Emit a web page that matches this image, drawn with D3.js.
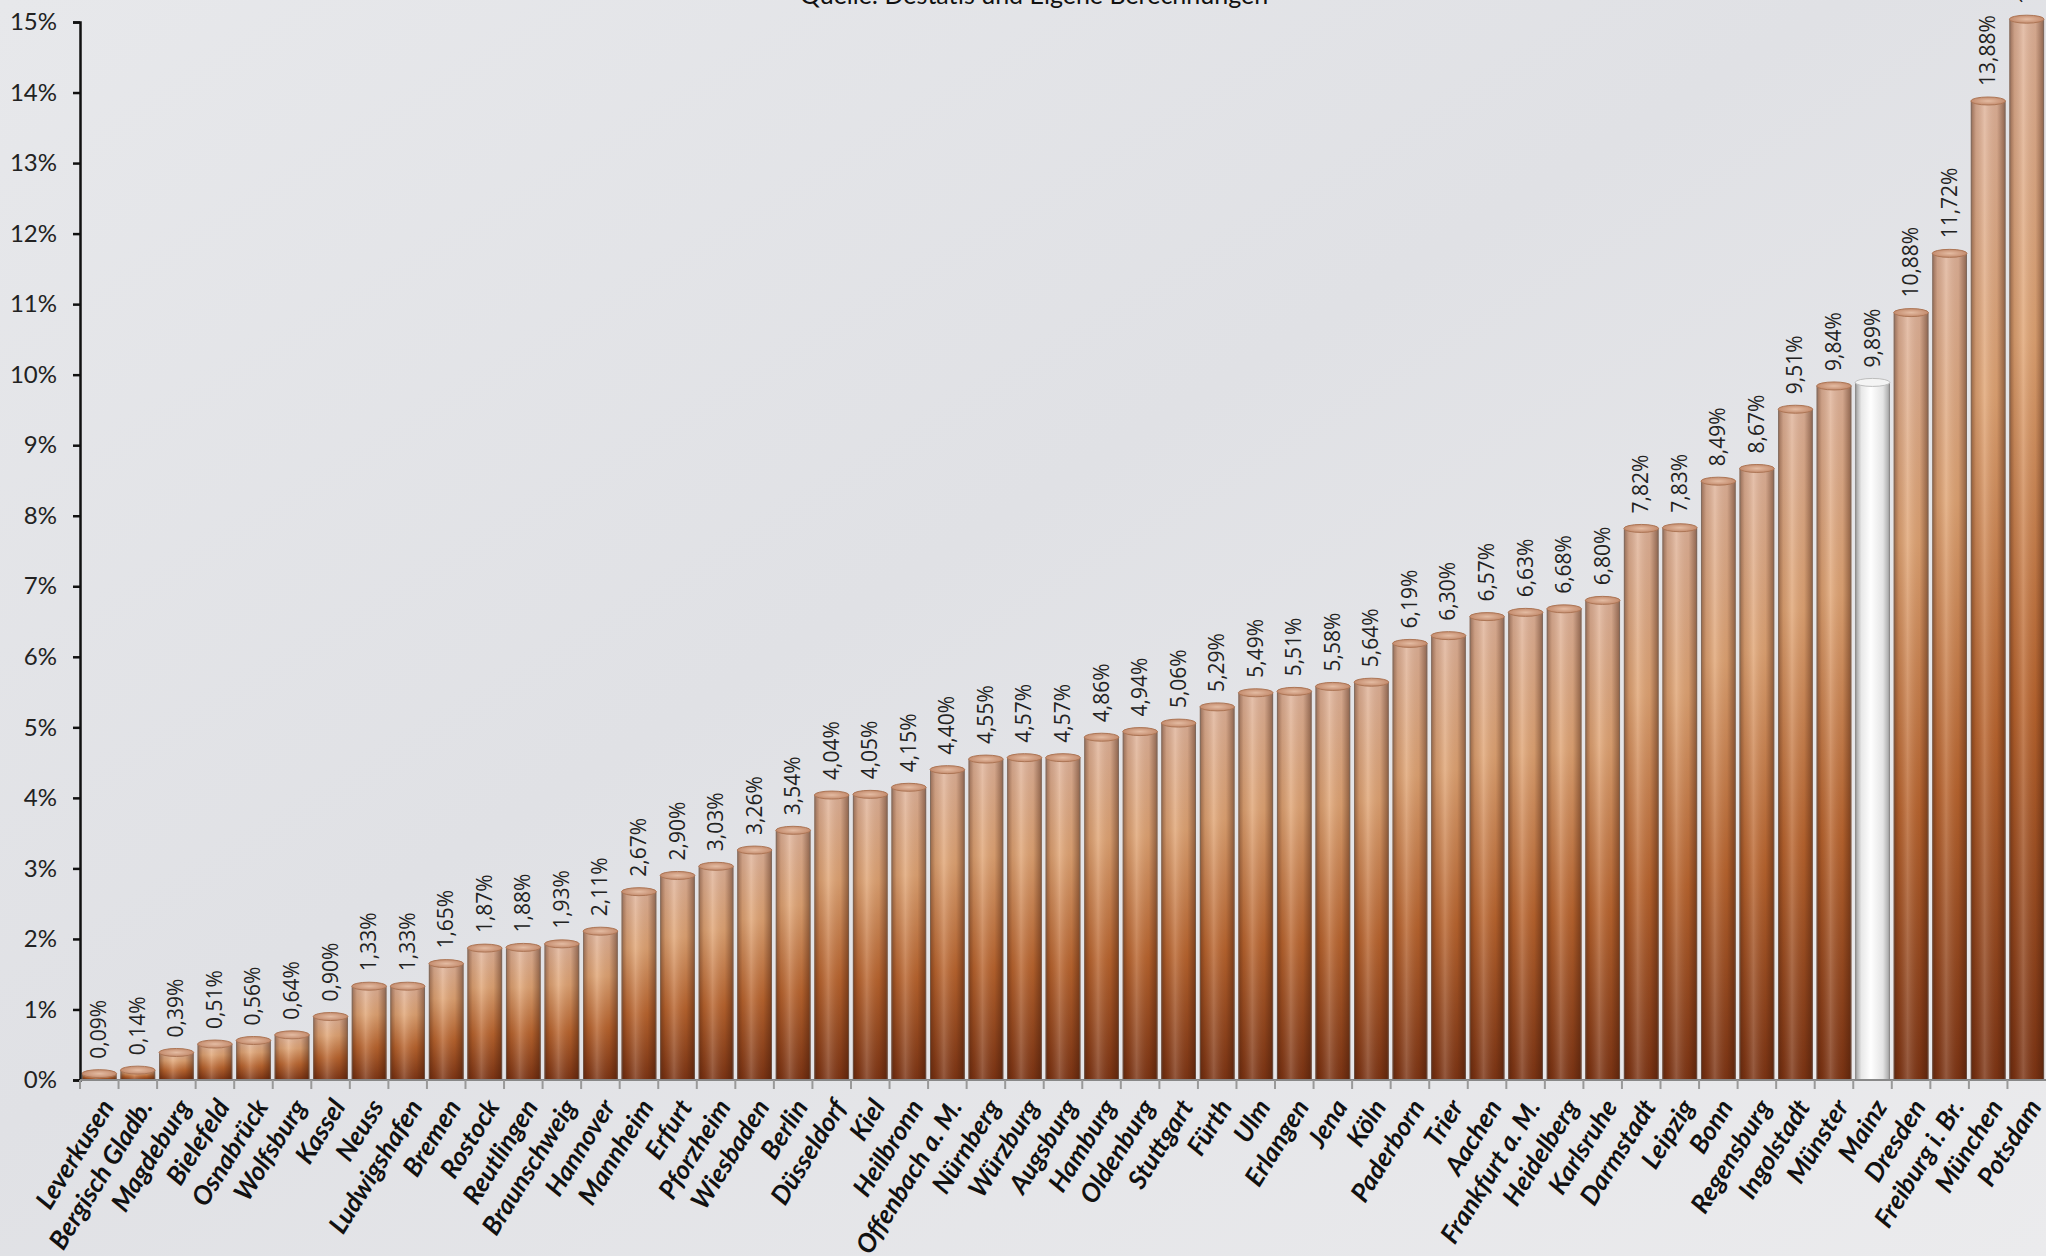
<!DOCTYPE html>
<html>
<head>
<meta charset="utf-8">
<script src="https://cdn.jsdelivr.net/npm/d3@7"></script>
<style>
    html, body { margin: 0; padding: 0; background: #e4e5e8; }
    svg { display: block; }
</style>
</head>
<body>
<div id="chart"></div>
<script>
//data (values in percent)
var cities = ["Leverkusen", "Bergisch Gladb.", "Magdeburg", "Bielefeld", "Osnabrück", "Wolfsburg", "Kassel",
    "Neuss", "Ludwigshafen", "Bremen", "Rostock", "Reutlingen", "Braunschweig", "Hannover", "Mannheim", "Erfurt",
    "Pforzheim", "Wiesbaden", "Berlin", "Düsseldorf", "Kiel", "Heilbronn", "Offenbach a. M.", "Nürnberg", "Würzburg",
    "Augsburg", "Hamburg", "Oldenburg", "Stuttgart", "Fürth", "Ulm", "Erlangen", "Jena", "Köln", "Paderborn", "Trier",
    "Aachen", "Frankfurt a. M.", "Heidelberg", "Karlsruhe", "Darmstadt", "Leipzig", "Bonn", "Regensburg", "Ingolstadt",
    "Münster", "Mainz", "Dresden", "Freiburg i. Br.", "München", "Potsdam"];
var values = [0.09, 0.14, 0.39, 0.51, 0.56, 0.64, 0.90,
    1.33, 1.33, 1.65, 1.87, 1.88, 1.93, 2.11, 2.67, 2.90,
    3.03, 3.26, 3.54, 4.04, 4.05, 4.15, 4.40, 4.55, 4.57,
    4.57, 4.86, 4.94, 5.06, 5.29, 5.49, 5.51, 5.58, 5.64, 6.19, 6.30,
    6.57, 6.63, 6.68, 6.80, 7.82, 7.83, 8.49, 8.67, 9.51,
    9.84, 9.89, 10.88, 11.72, 13.88, 15.04];
var highlight = ["Mainz"];
var yTicks = d3.range(0, 16, 1);
var subtitle = "Quelle: Destatis und Eigene Berechnungen";

var width = 2046, height = 1256;

var svg = d3.select("#chart").append("svg")
    .attr("width", width)
    .attr("height", height);

var defs = svg.append("defs");

//background
var bg = defs.append("linearGradient").attr("id", "bg")
    .attr("x1", 0).attr("y1", 0).attr("x2", 1).attr("y2", 1);
bg.append("stop").attr("offset", "0%").attr("stop-color", "#e7e8eb");
bg.append("stop").attr("offset", "45%").attr("stop-color", "#e0e1e5");
bg.append("stop").attr("offset", "100%").attr("stop-color", "#ebebed");
svg.append("rect").attr("width", width).attr("height", height).attr("fill", "url(#bg)");

//bar body gradient (vertical)
var vg = defs.append("linearGradient").attr("id", "barV")
    .attr("x1", 0).attr("y1", 0).attr("x2", 0).attr("y2", 1);
vg.append("stop").attr("offset", "0%").attr("stop-color", "#dfb39a");
vg.append("stop").attr("offset", "30%").attr("stop-color", "#e0a575");
vg.append("stop").attr("offset", "65%").attr("stop-color", "#b9652f");
vg.append("stop").attr("offset", "100%").attr("stop-color", "#7c3414");

//cylinder shading (horizontal)
var hg = defs.append("linearGradient").attr("id", "barH")
    .attr("x1", 0).attr("y1", 0).attr("x2", 1).attr("y2", 0);
hg.append("stop").attr("offset", "0%").attr("stop-color", "#3a1505").attr("stop-opacity", 0.45);
hg.append("stop").attr("offset", "15%").attr("stop-color", "#3a1505").attr("stop-opacity", 0.12);
hg.append("stop").attr("offset", "40%").attr("stop-color", "#ffffff").attr("stop-opacity", 0.18);
hg.append("stop").attr("offset", "75%").attr("stop-color", "#3a1505").attr("stop-opacity", 0.08);
hg.append("stop").attr("offset", "100%").attr("stop-color", "#3a1505").attr("stop-opacity", 0.5);

//highlight bar (silver)
var sg = defs.append("linearGradient").attr("id", "barS")
    .attr("x1", 0).attr("y1", 0).attr("x2", 1).attr("y2", 0);
sg.append("stop").attr("offset", "0%").attr("stop-color", "#9a9a9a");
sg.append("stop").attr("offset", "18%").attr("stop-color", "#e8e8e8");
sg.append("stop").attr("offset", "45%").attr("stop-color", "#ffffff");
sg.append("stop").attr("offset", "80%").attr("stop-color", "#e4e4e4");
sg.append("stop").attr("offset", "100%").attr("stop-color", "#a0a0a0");

var capG = defs.append("radialGradient").attr("id", "cap");
capG.append("stop").attr("offset", "0%").attr("stop-color", "#e4bca3");
capG.append("stop").attr("offset", "100%").attr("stop-color", "#c48c6e");

//scales
var plotLeft = 80, plotBottom = 1080, plotTop = 22;
var xScale = d3.scaleBand().domain(cities).range([plotLeft, width]).paddingInner(0.1).paddingOuter(0.05);
var yScale = d3.scaleLinear().domain([0, 15]).range([plotBottom, plotTop]);

var data = cities.map(function (c, i) { return {city: c, value: values[i]}; });
var bw = xScale.bandwidth();
var capRy = 4;

//subtitle (cut at top, as in the source)
svg.append("text")
    .attr("x", 1034).attr("y", 4)
    .attr("text-anchor", "middle")
    .style("font-family", "Lato, 'Open Sans', sans-serif")
    .style("font-size", "25px")
    .attr("fill", "#111")
    .text(subtitle);

//bars
var bars = svg.append("g").selectAll("g.bar")
    .data(data)
    .enter().append("g")
    .attr("class", "bar");

bars.append("rect")
    .attr("x", function (d) { return xScale(d.city); })
    .attr("y", function (d) { return yScale(d.value); })
    .attr("width", bw)
    .attr("height", function (d) { return plotBottom - yScale(d.value); })
    .attr("fill", function (d) { return highlight.indexOf(d.city) >= 0 ? "url(#barS)" : "url(#barV)"; });

bars.filter(function (d) { return highlight.indexOf(d.city) < 0; })
    .append("rect")
    .attr("x", function (d) { return xScale(d.city); })
    .attr("y", function (d) { return yScale(d.value); })
    .attr("width", bw)
    .attr("height", function (d) { return plotBottom - yScale(d.value); })
    .attr("fill", "url(#barH)");

//thin grey edge lines of the cylinders
bars.append("path")
    .attr("d", function (d) {
        var x0 = xScale(d.city) + 0.5, x1 = xScale(d.city) + bw - 0.5, y0 = yScale(d.value);
        return "M" + x0 + "," + y0 + "V" + plotBottom + "M" + x1 + "," + y0 + "V" + plotBottom;
    })
    .attr("stroke", "#6f6a66").attr("stroke-opacity", 0.55).attr("stroke-width", 1);

//top caps
bars.append("ellipse")
    .attr("cx", function (d) { return xScale(d.city) + bw / 2; })
    .attr("cy", function (d) { return yScale(d.value); })
    .attr("rx", bw / 2)
    .attr("ry", capRy)
    .attr("fill", function (d) { return highlight.indexOf(d.city) >= 0 ? "#f4f4f4" : "url(#cap)"; })
    .attr("stroke", function (d) { return highlight.indexOf(d.city) >= 0 ? "#bdbdbd" : "#ad7656"; })
    .attr("stroke-width", 1);

//value labels
bars.append("text")
    .attr("transform", function (d) {
        return "translate(" + (xScale(d.city) + bw / 2 + 7) + "," + (yScale(d.value) - 15) + ") rotate(-90)";
    })
    .style("font-family", "'Open Sans', sans-serif")
    .style("font-size", "21px")
    .attr("fill", "#222")
    .text(function (d) { return d.value.toFixed(2).replace(".", ",") + "%"; });

//y axis
var yAxis = d3.axisLeft(yScale).tickValues(yTicks).tickSize(7).tickPadding(16)
    .tickFormat(function (d) { return d + "%"; });
var yG = svg.append("g")
    .attr("transform", "translate(" + plotLeft + ",0)")
    .call(yAxis);
yG.select(".domain").attr("stroke", "#111").attr("stroke-width", 2.5);
yG.selectAll(".tick line").attr("stroke", "#111").attr("stroke-width", 2.5);
yG.selectAll("text")
    .style("font-family", "Lato, sans-serif")
    .style("font-size", "24px")
    .attr("fill", "#222");

//x axis
svg.append("line")
    .attr("x1", plotLeft).attr("x2", width)
    .attr("y1", plotBottom).attr("y2", plotBottom)
    .attr("stroke", "#888").attr("stroke-width", 2);

var step = xScale.step();
svg.append("g").selectAll("line")
    .data(cities)
    .enter().append("line")
    .attr("x1", function (d) { return xScale(d) - step * 0.05; })
    .attr("x2", function (d) { return xScale(d) - step * 0.05; })
    .attr("y1", plotBottom).attr("y2", plotBottom + 9)
    .attr("stroke", "#999").attr("stroke-width", 2);

var xAxis = d3.axisBottom(xScale).tickSize(0).tickPadding(0);
var xG = svg.append("g")
    .attr("transform", "translate(0," + plotBottom + ")")
    .call(xAxis);
xG.select(".domain").remove();
xG.selectAll(".tick text")
    .attr("text-anchor", "end")
    .attr("transform", "translate(8,22) rotate(-58)")
    .attr("dy", "0.35em")
    .attr("y", 0)
    .style("font-family", "Lato, sans-serif")
    .style("font-weight", "bold")
    .style("font-style", "italic")
    .style("font-size", "26px")
    .attr("fill", "#111");
</script>
</body>
</html>
